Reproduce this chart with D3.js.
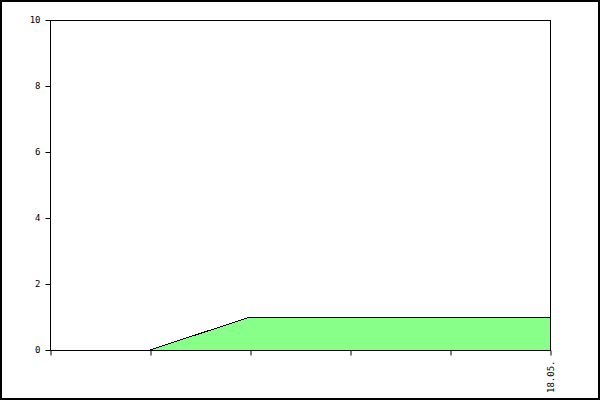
<!DOCTYPE html>
<html>
<head>
<meta charset="utf-8">
<script src="https://cdn.jsdelivr.net/npm/d3@7"></script>
<style>
  html, body { margin: 0; padding: 0; background: #fff; }
  svg { display: block; }
  .tick text { font-family: "DejaVu Sans Mono", monospace; font-size: 9px; fill: #000; }
</style>
</head>
<body>
<svg id="chart"></svg>
<script>
// chart data
var categories = ["", "", "", "", "", "18.05."];
var values = [0, 0, 1, 1, 1, 1];
var yTicks = [0, 2, 4, 6, 8, 10];

var width = 600, height = 400;
var margin = { top: 20, right: 50, bottom: 50, left: 50 };
var chartWidth = width - margin.left - margin.right;
var chartHeight = height - margin.top - margin.bottom;

var svg = d3.select("#chart")
    .attr("width", width)
    .attr("height", height);

// outer frame
svg.append("rect")
    .attr("x", 1).attr("y", 1)
    .attr("width", width - 2).attr("height", height - 2)
    .attr("fill", "none")
    .attr("stroke", "#000")
    .attr("stroke-width", 2);

var g = svg.append("g")
    .attr("transform", "translate(" + margin.left + "," + margin.top + ")");

var xScale = d3.scalePoint()
    .domain(d3.range(categories.length))
    .range([0, chartWidth]);

var yScale = d3.scaleLinear()
    .domain([0, 10])
    .range([chartHeight, 0]);

// area
var area = d3.area()
    .x(function (d, i) { return xScale(i); })
    .y0(yScale(0))
    .y1(function (d) { return yScale(d); });

g.append("path")
    .datum(values)
    .attr("d", area)
    .attr("fill", "#88ff88")
    .attr("stroke", "none");

var line = d3.line()
    .x(function (d, i) { return xScale(i); })
    .y(function (d) { return yScale(d); });

g.append("path")
    .datum(values)
    .attr("d", line)
    .attr("fill", "none")
    .attr("stroke", "#000")
    .attr("stroke-width", 1)
    .attr("shape-rendering", "crispEdges");

// plot frame
g.append("rect")
    .attr("x", 0.5).attr("y", 0.5)
    .attr("width", chartWidth).attr("height", chartHeight)
    .attr("fill", "none")
    .attr("stroke", "#000");

// axes
var yAxis = d3.axisLeft(yScale).tickValues(yTicks).tickSize(5).tickPadding(5);
g.append("g")
    .attr("transform", "translate(0.5,0)")
    .call(yAxis)
    .call(function (s) { s.select(".domain").remove(); });

var xAxis = d3.axisBottom(xScale)
    .tickSize(5)
    .tickFormat(function (i) { return categories[i]; });
var xg = g.append("g")
    .attr("transform", "translate(0," + (chartHeight + 0.5) + ")")
    .call(xAxis)
    .call(function (s) { s.select(".domain").remove(); });

xg.selectAll(".tick line").attr("transform", "translate(0.5,0)");
xg.selectAll(".tick text")
    .attr("transform", "rotate(-90)")
    .attr("text-anchor", "end")
    .attr("dy", "0.35em")
    .attr("x", -10)
    .attr("y", 0.5);

g.selectAll(".tick line").attr("stroke", "#000");
</script>
</body>
</html>
